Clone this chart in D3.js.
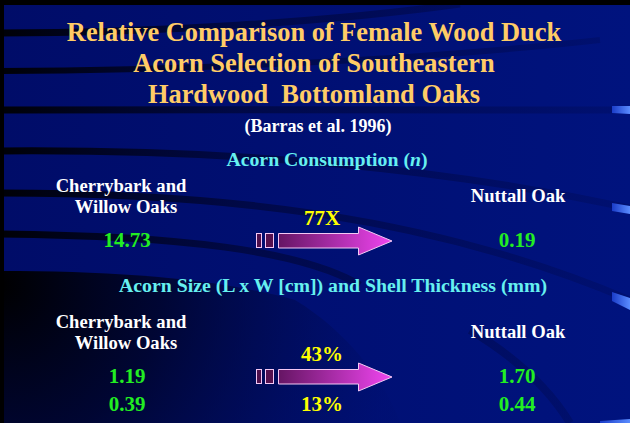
<!DOCTYPE html>
<html>
<head>
<meta charset="utf-8">
<script src="https://cdn.jsdelivr.net/npm/d3@7"></script>
<style>
  html, body { margin: 0; padding: 0; background: #000; }
  svg { display: block; }
  text { font-family: "Liberation Serif", "Times New Roman", serif; font-weight: bold; white-space: pre; }
</style>
</head>
<body>
<svg id="slide"></svg>
<script>
// slide content
const titleLines = ["Relative Comparison of Female Wood Duck", "Acorn Selection of Southeastern", "Hardwood  Bottomland Oaks"];
const citation = "(Barras et al. 1996)";
const sectionTitles = ["Acorn Consumption ", "Acorn Size (L x W [cm]) and Shell Thickness (mm)"];
const sectionUnits = ["n", ""];
const leftGroup = ["Cherrybark and", "Willow Oaks"];
const rightGroup = ["Nuttall Oak"];
const leftValues = [[14.73], [1.19, 0.39]];
const rightValues = [[0.19], [1.70, 0.44]];
const changeLabels = [["77X"], ["43%", "13%"]];

const W = 630, H = 423;
const svg = d3.select('#slide').attr('width', W).attr('height', H);
const defs = svg.append('defs');

// background
const bg = defs.append('linearGradient').attr('id', 'bg').attr('x1', 0).attr('x2', 1).attr('y1', 0).attr('y2', 0);
bg.append('stop').attr('offset', 0).attr('stop-color', '#000c68');
bg.append('stop').attr('offset', 1).attr('stop-color', '#00137e');
svg.append('rect').attr('width', W).attr('height', H).attr('fill', 'url(#bg)');

// dark swoosh lower left
const sw = defs.append('radialGradient').attr('id', 'swoosh')
    .attr('gradientUnits', 'userSpaceOnUse').attr('cx', 0).attr('cy', 285).attr('r', 400);
sw.append('stop').attr('offset', 0).attr('stop-color', '#000').attr('stop-opacity', 1);
sw.append('stop').attr('offset', 0.4).attr('stop-color', '#000320').attr('stop-opacity', 0.75);
sw.append('stop').attr('offset', 1).attr('stop-color', '#000a50').attr('stop-opacity', 0.05);
svg.append('path')
    .attr('d', 'M0,271 C120,271 220,279 295,300 C345,330 385,380 400,423 L0,423 Z')
    .attr('fill', 'url(#swoosh)');

// ribbons
const rg = defs.append('linearGradient').attr('id', 'ribbon')
    .attr('gradientUnits', 'userSpaceOnUse').attr('x1', 0).attr('x2', W).attr('y1', 0).attr('y2', 0);
rg.append('stop').attr('offset', 0).attr('stop-color', '#000').attr('stop-opacity', 0.95);
rg.append('stop').attr('offset', 0.4).attr('stop-color', '#000428').attr('stop-opacity', 0.55);
rg.append('stop').attr('offset', 1).attr('stop-color', '#000640').attr('stop-opacity', 0.2);

const ribbons = [
    { d: 'M0,33 C150,33 330,22 460,4', w: 7 },
    { d: 'M0,71 C200,70 420,60 600,40', w: 6 },
    { d: 'M0,110 C200,110 420,109 612,110', w: 7 },
    { d: 'M0,151 C250,149 450,170 630,208', w: 7 },
    { d: 'M0,193 C220,193 430,215 630,300', w: 7 },
    { d: 'M0,234 C180,236 300,250 360,285', w: 7 },
    { d: 'M470,330 C520,360 550,390 570,423', w: 8 }
];
svg.append('g').selectAll('path').data(ribbons).join('path')
    .attr('d', d => d.d).attr('fill', 'none')
    .attr('stroke', 'url(#ribbon)').attr('stroke-width', d => d.w);

// light ribbon ends at right edge
const cap = defs.append('linearGradient').attr('id', 'cap').attr('x1', 0).attr('x2', 1).attr('y1', 0).attr('y2', 0);
cap.append('stop').attr('offset', 0).attr('stop-color', '#1a3cc8');
cap.append('stop').attr('offset', 1).attr('stop-color', '#5a8cff');
svg.append('g').selectAll('path')
    .data(['M612,106 L630,106 L630,114 L612,113 Z', 'M612,203 L630,206 L630,214 L612,211 Z',
           'M612,292 L630,298 L630,310 L612,301 Z', 'M600,421 L630,419 L630,423 L600,423 Z'])
    .join('path').attr('d', d => d).attr('fill', 'url(#cap)');

// black frame on top and left
svg.append('rect').attr('width', W).attr('height', 5).attr('fill', '#000');
svg.append('rect').attr('width', 4).attr('height', H).attr('fill', '#000');

// title
svg.append('g').selectAll('text').data(titleLines).join('text')
    .attr('x', 314).attr('y', (d, i) => 41 + i * 31)
    .attr('text-anchor', 'middle').attr('font-size', 26.4).attr('fill', '#ffcc66')
    .text(d => d);
svg.append('text').attr('x', 318).attr('y', 132).attr('text-anchor', 'middle')
    .attr('font-size', 18).attr('fill', '#fff').text(citation);

// columns
const x = d3.scalePoint().domain(['left', 'mid', 'right']).range([127, 517]);
const sectionShift = [0, 136];
const headerY = [166, 292];
const headerX = [327, 333];
const fmt = d3.format('.2f');

const arrowGrad = defs.append('linearGradient').attr('id', 'arrow')
    .attr('gradientUnits', 'userSpaceOnUse').attr('x1', 256).attr('x2', 392).attr('y1', 0).attr('y2', 0);
arrowGrad.append('stop').attr('offset', 0).attr('stop-color', '#4a0c48');
arrowGrad.append('stop').attr('offset', 1).attr('stop-color', '#f045f0');

sectionTitles.forEach((title, s) => {
    const dy = sectionShift[s];
    const g = svg.append('g');

    const h = g.append('text').attr('x', headerX[s]).attr('y', headerY[s])
        .attr('text-anchor', 'middle').attr('font-size', 19.8).attr('fill', '#66f0f0');
    h.append('tspan').text(title);
    if (sectionUnits[s]) {
        h.append('tspan').text('(');
        h.append('tspan').attr('font-style', 'italic').text(sectionUnits[s]);
        h.append('tspan').text(')');
    }

    g.selectAll('text.lg').data(leftGroup).join('text').attr('class', 'lg')
        .attr('x', (d, i) => 121 + i * 5).attr('y', (d, i) => 192 + dy + i * 21)
        .attr('text-anchor', 'middle').attr('font-size', 18.6).attr('fill', '#fff').text(d => d);
    g.selectAll('text.rg').data(rightGroup).join('text').attr('class', 'rg')
        .attr('x', 518).attr('y', 202 + dy)
        .attr('text-anchor', 'middle').attr('font-size', 18.6).attr('fill', '#fff').text(d => d);

    g.selectAll('text.lv').data(leftValues[s]).join('text').attr('class', 'lv')
        .attr('x', x('left')).attr('y', (d, i) => 247 + dy + i * 28)
        .attr('text-anchor', 'middle').attr('font-size', 21).attr('fill', '#22ee22').text(d => fmt(d));
    g.selectAll('text.rv').data(rightValues[s]).join('text').attr('class', 'rv')
        .attr('x', x('right')).attr('y', (d, i) => 247 + dy + i * 28)
        .attr('text-anchor', 'middle').attr('font-size', 21).attr('fill', '#22ee22').text(d => fmt(d));

    // change labels: first above the arrow, second below
    g.selectAll('text.ch').data(changeLabels[s]).join('text').attr('class', 'ch')
        .attr('x', x('mid')).attr('y', (d, i) => i === 0 ? 225 + dy : 275 + dy)
        .attr('text-anchor', 'middle').attr('font-size', 21).attr('fill', '#ffff00').text(d => d);

    // arrow
    const a = g.append('g').attr('transform', `translate(0,${dy})`)
        .attr('stroke', '#f4c8f4').attr('stroke-width', 1);
    a.append('rect').attr('x', 256.5).attr('y', 233.5).attr('width', 5).attr('height', 14).attr('fill', '#4e0f4c');
    a.append('rect').attr('x', 265.5).attr('y', 233.5).attr('width', 8).attr('height', 14).attr('fill', '#55104f');
    a.append('path')
        .attr('d', 'M278.5,233.5 L358.5,233.5 L358.5,227 L392,241 L358.5,255 L358.5,248 L278.5,248 Z')
        .attr('fill', 'url(#arrow)');
});
</script>
</body>
</html>
